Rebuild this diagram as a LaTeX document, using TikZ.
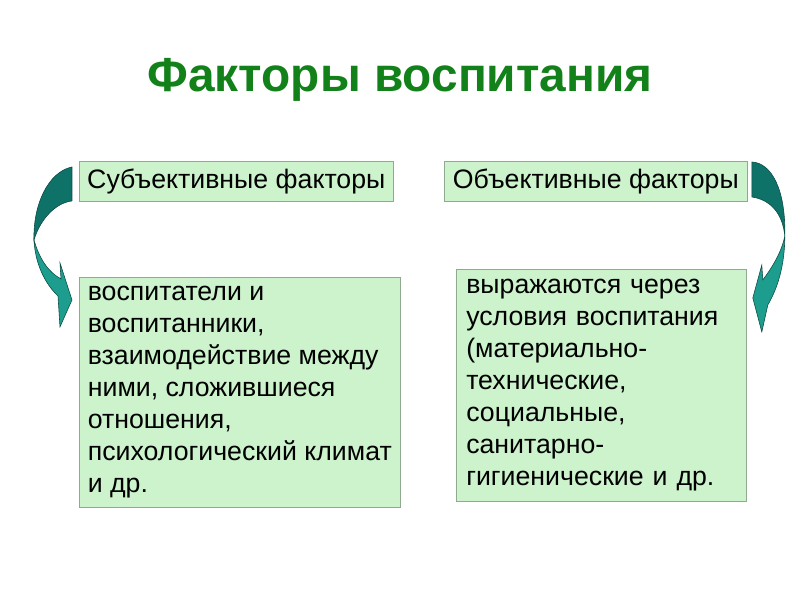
\documentclass[tikz,border=0pt]{standalone}
\usepackage{fontspec}
\setmainfont{Liberation Sans}
\usepackage{tikz}
\usetikzlibrary{positioning}
\definecolor{boxfill}{HTML}{CCF3CC}
\definecolor{boxline}{HTML}{8FAA8F}
\definecolor{titlegreen}{HTML}{13811A}
\definecolor{tealdark}{HTML}{0F7268}
\definecolor{teallight}{HTML}{1D9D8D}
\definecolor{tealline}{HTML}{0A4A44}
\tikzstyle{header} = [rectangle, draw=boxline, fill=boxfill, minimum height=1cm, inner sep=0pt, text centered, font=\fontsize{19}{22.8}\selectfont]
\tikzstyle{body} = [rectangle, draw=boxline, fill=boxfill, inner sep=0pt, align=left, font=\fontsize{19}{22.8}\selectfont]
\tikzstyle{curvearrow} = [draw=tealline, line width=0.4pt]

\begin{document}
\begin{tikzpicture}
		\useasboundingbox (0,0) rectangle (20,-15);

		\node (title) at (10,-2.0) [text=titlegreen, font=\bfseries\fontsize{34}{40}\selectfont] {Факторы воспитания};

		\node (subj) at (1.975,-4.025) [header, anchor=north west, minimum width=7.85cm] {Субъективные факторы};
		\node (obj) at (11.1,-4.025) [header, anchor=north west, minimum width=7.575cm] {Объективные факторы};

		\node (subjtext) [body, below=1.875cm of subj.south west, anchor=north west, minimum width=8.025cm, minimum height=5.75cm] {воспитатели и\\ воспитанники,\\ взаимодействие между\\ ними, сложившиеся\\ отношения,\\ психологический климат\\ и др.};
		\node (objtext) [body, below=1.675cm of obj.south west, anchor=north west, xshift=0.3cm, inner xsep=0.25cm, minimum width=7.25cm, minimum height=5.8cm, text width=6.75cm] {выражаются через\\ условия воспитания\\ (материально-\\ технические,\\ социальные,\\ санитарно-\\ гигиенические и др.};

		% curved arrows
		\begin{scope}[x=0.025cm, y=-0.025cm]
		\fill[curvearrow, fill=tealdark] (72,167) .. controls (48,172) and (33,205) .. (34,240) .. controls (40,220) and (55,203) .. (72,201) -- cycle;
		\fill[curvearrow, fill=teallight] (34,240) .. controls (35,262) and (44,283) .. (58,296) -- (60,327) -- (72,300) -- (60,263) -- (61,279) .. controls (48,272) and (39,258) .. (34,240) -- cycle;
		\fill[curvearrow, fill=tealdark] (752,162) .. controls (772,163) and (786,190) .. (785,236) .. controls (783,215) and (772,200) .. (752,197) -- cycle;
		\fill[curvearrow, fill=teallight] (785,236) .. controls (785,265) and (778,288) .. (768,305) -- (762,332) -- (753,298) -- (762,265) -- (763,280) .. controls (772,268) and (782,252) .. (785,236) -- cycle;
		\end{scope}

\end{tikzpicture}
\end{document}
